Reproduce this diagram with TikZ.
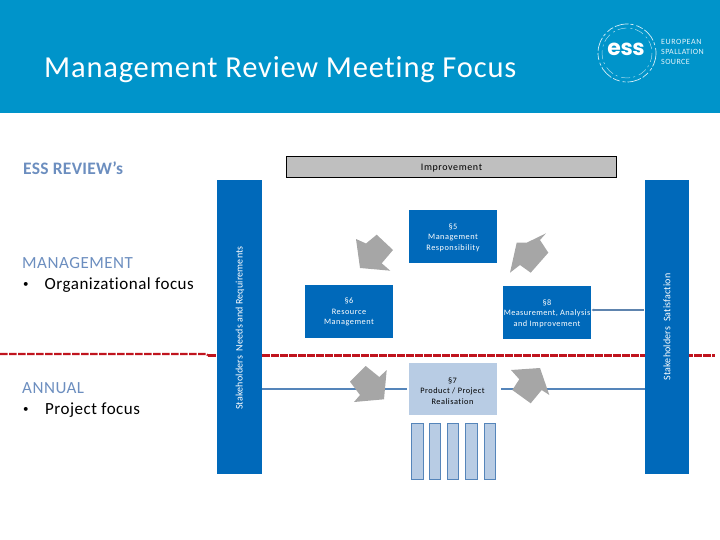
\documentclass[tikz,border=0pt]{standalone}
\usetikzlibrary{arrows.meta}
\usepackage{fontspec}
\setmainfont{Carlito}[Ligatures=NoCommon]
\newfontfamily\logofont{Poppins}
\definecolor{headblue}{HTML}{0094CA}
\definecolor{barblue}{HTML}{0069BA}
\definecolor{paleblue}{HTML}{B8CCE4}
\definecolor{edgeblue}{HTML}{5585BA}
\definecolor{headtext}{HTML}{6C8EBF}
\definecolor{arrowgrey}{HTML}{A6A6A6}
\definecolor{dashred}{HTML}{C0141E}
\tikzset{
  bar/.style={fill=barblue,draw=none,minimum width=44.5pt,minimum height=294pt,inner sep=0pt},
  barlabel/.style={text=white,rotate=90,font=\fontsize{10}{11}\selectfont,inner sep=0pt},
  secbox/.style={fill=barblue,draw=none,minimum width=88pt,minimum height=53pt,inner sep=0pt},
  palebox/.style={fill=paleblue,draw=none,minimum width=88pt,minimum height=52pt,inner sep=0pt},
  seclabel/.style={inner sep=0pt,text=white,align=center,font=\fontsize{8.3}{10.6}\selectfont},
  palelabel/.style={seclabel,text=black},
  slat/.style={fill=paleblue,draw=edgeblue,line width=0.8pt,minimum width=11.5pt,minimum height=56pt,inner sep=0pt},
  link/.style={draw=edgeblue,line width=1.7pt},
  redline/.style={draw=dashred,line width=2.5pt,dash pattern=on 7.5pt off 1.5pt},
  greyarrow/.style={fill=arrowgrey,draw=none},
  bodytext/.style={anchor=west,inner sep=0pt,font=\fontsize{17}{20}\selectfont},
  bullettext/.style={anchor=west,inner sep=0pt,font=\fontsize{11}{12}\selectfont},
  headtxt/.style={anchor=west,inner sep=0pt,text=headtext,font=\fontsize{17}{20}\selectfont},
  logotext/.style={anchor=west,inner sep=0pt,text=white!90!headblue,font=\fontsize{8}{8}\selectfont},
}
\begin{document}
\begin{tikzpicture}[x=1pt,y=-1pt]
\useasboundingbox (0,0) rectangle (720,540);
\fill[headblue] (0,0) rectangle (720,113);
\node[anchor=west,inner sep=0pt,text=white,font=\fontsize{30.5}{34}\selectfont] (title) at (44,70) {\addfontfeatures{LetterSpace=2.7}Management Review Meeting Focus};
% logo
\draw[white!85!headblue,line width=0.7pt,dash pattern=on 14pt off 2pt on 3pt off 3pt on 7pt off 2pt] (627,53) circle (29);
\draw[white!65!headblue,line width=0.5pt,dash pattern=on 9pt off 4pt on 2pt off 3pt] (627,53) circle (25);
\node[text=white,inner sep=0pt,font=\logofont\bfseries\fontsize{22}{22}\selectfont] (ess) at (626,49) {\addfontfeatures{LetterSpace=-2}ess};
\node[logotext] (l1) at (661,41.500) {\addfontfeatures{LetterSpace=7}EUROPEAN};
\node[logotext] (l2) at (661,52) {\addfontfeatures{LetterSpace=5}SPALLATION};
\node[logotext] (l3) at (661,62) {\addfontfeatures{LetterSpace=5}SOURCE};
% left texts
\node[anchor=west,inner sep=0pt,text=headtext,font=\bfseries\fontsize{17.5}{20}\selectfont] (rev) at (23,168) {\addfontfeatures{LetterSpace=1.5}ESS REVIEW’s};
\node[headtxt] (mg) at (22,263.500) {\addfontfeatures{LetterSpace=3}MANAGEMENT};
\node[bullettext] (mgb) at (23,285) {•};
\node[bodytext] (mgt) at (44.500,285.500) {\addfontfeatures{LetterSpace=3}Organizational focus};
\node[headtxt] (an) at (22,388.500) {\addfontfeatures{LetterSpace=3}ANNUAL};
\node[bullettext] (anb) at (23,410) {•};
\node[bodytext] (ant) at (45,410.500) {\addfontfeatures{LetterSpace=3}Project focus};
% red dashed
\coordinate (r0) at (0,354);
\coordinate (r1) at (206,354);
\coordinate (r2) at (208,355.300);
\coordinate (r3) at (715,355.300);
\draw[redline,line width=2.1pt] (r0) -- (r1) -- (r2);
\draw[redline] (r2) -- (r3);
% bars
\node[bar] (lbar) at (239.500,327) {};
\node[bar] (rbar) at (667,327) {};
\node[barlabel] (lbl) at (240,328) {\addfontfeatures{LetterSpace=1.5}Stakeholders\ \ Needs\ and\ Requirements};
\node[barlabel] (rbl) at (667,327) {\addfontfeatures{LetterSpace=1.5}Stakeholders\ \ Satisfaction};
% improvement
\node[fill=black!25,draw=black,line width=0.8pt,minimum width=330pt,minimum height=21pt,inner sep=0pt,
  label={[inner sep=0pt,yshift=-1.5pt,font=\fontsize{10}{11}\selectfont]center:{\addfontfeatures{LetterSpace=6}Improvement}}] (imp) at (451.500,167) {};
% section boxes
\node[secbox,label={[seclabel,yshift=-1pt]center:{\addfontfeatures{LetterSpace=6}§5\\\addfontfeatures{LetterSpace=6}Management\\\addfontfeatures{LetterSpace=6}Responsibility}}] (s5) at (453,236.500) {};
\node[secbox,label={[seclabel,yshift=-0.5pt]center:{\addfontfeatures{LetterSpace=6}§6\\\addfontfeatures{LetterSpace=6}Resource\\\addfontfeatures{LetterSpace=6}Management}}] (s6) at (349,311.500) {};
\node[secbox,label={[seclabel,yshift=-1pt]center:{\addfontfeatures{LetterSpace=6}§8\\\addfontfeatures{LetterSpace=5}Measurement, Analysis\\\addfontfeatures{LetterSpace=6}and Improvement}}] (s8) at (547,312.500) {};
\node[palebox,label={[palelabel,yshift=-2pt]center:{\addfontfeatures{LetterSpace=6}§7\\\addfontfeatures{LetterSpace=6}Product / Project\\\addfontfeatures{LetterSpace=6}Realisation}}] (s7) at (452.500,389) {};
% slats
\node[slat] (a1) at (417.300,451) {};
\node[slat] (a2) at (435,451) {};
\node[slat] (a3) at (453,451) {};
\node[slat] (a4) at (471.500,451) {};
\node[slat] (a5) at (490,451) {};
% links
\coordinate (le) at (407,388.700);
\coordinate (re) at (501,389);
\draw[link] (lbar.east |- le) -- (le);
\draw[link] (re) -- (rbar.west |- re);
\coordinate (m8) at (644,310);
\draw[draw=edgeblue!80!gray,line width=1.5pt,-{Latex[length=3pt,width=3pt]}] (m8) -- (s8.east |- m8);
% grey block arrows
\fill[greyarrow] (356,239) -- (366,243.500) -- (376.700,234.700) -- (393,250) -- (381.700,263.300) -- (390.300,270.700) -- (360,268) -- cycle;
\fill[greyarrow] (510,272.700) -- (516.700,242.700) -- (526.700,242.700) -- (546,233.300) -- (540,240) -- (548.300,252.700) -- (530.700,272.700) -- (520,265) -- cycle;
\fill[greyarrow] (386.700,370) -- (384,399.300) -- (354,402) -- (360,395) -- (350,381.700) -- (365.700,366) -- (379.300,377) -- cycle;
\fill[greyarrow] (511,370) -- (540,368) -- (549.300,395) -- (541.700,390) -- (530.700,403.300) -- (512.300,390) -- (519.300,379.300) -- cycle;
\end{tikzpicture}
\end{document}
